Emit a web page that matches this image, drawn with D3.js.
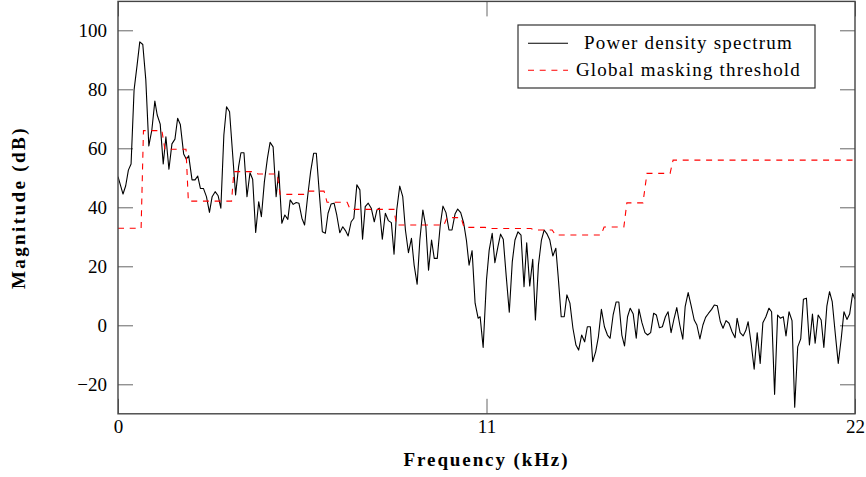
<!DOCTYPE html>
<html>
<head>
<meta charset="utf-8">
<script src="https://cdn.jsdelivr.net/npm/d3@7"></script>
<style>
  body { margin: 0; background: #fff; }
  text { font-family: "Liberation Serif", "Times New Roman", serif; fill: #000; }
</style>
</head>
<body>
<div class="chart"></div>
<script>
// spectrum samples (kHz, dB)
const spectrumFreq = [
  0, 0.15, 0.23, 0.31, 0.39, 0.48, 0.57, 0.65, 0.74, 0.83,
  0.92, 1.01, 1.10, 1.17, 1.26, 1.35, 1.43, 1.52, 1.61, 1.70,
  1.78, 1.86, 1.96, 2.04, 2.11, 2.21, 2.30, 2.38, 2.46, 2.55,
  2.64, 2.73, 2.81, 2.90, 2.99, 3.07, 3.16, 3.24, 3.33, 3.42,
  3.51, 3.60, 3.67, 3.76, 3.85, 3.94, 4.02, 4.11, 4.20, 4.28,
  4.37, 4.46, 4.54, 4.63, 4.72, 4.80, 4.89, 4.98, 5.07, 5.14,
  5.23, 5.32, 5.40, 5.49, 5.57, 5.66, 5.75, 5.84, 5.92, 6.01,
  6.10, 6.19, 6.27, 6.36, 6.45, 6.53, 6.62, 6.71, 6.79, 6.87,
  6.96, 7.04, 7.13, 7.22, 7.30, 7.38, 7.47, 7.56, 7.65, 7.73,
  7.80, 7.89, 7.98, 8.07, 8.16, 8.24, 8.32, 8.41, 8.50, 8.58,
  8.67, 8.76, 8.84, 8.93, 9.01, 9.10, 9.19, 9.27, 9.36, 9.44,
  9.53, 9.62, 9.70, 9.79, 9.88, 9.97, 10.06, 10.14, 10.23, 10.32,
  10.40, 10.48, 10.57, 10.66, 10.75, 10.81, 10.90, 11.00, 11.08, 11.17,
  11.25, 11.34, 11.42, 11.50, 11.59, 11.68, 11.77, 11.85, 11.94, 12.03,
  12.12, 12.20, 12.29, 12.38, 12.46, 12.55, 12.64, 12.72, 12.81, 12.89,
  12.98, 13.07, 13.14, 13.23, 13.32, 13.40, 13.49, 13.58, 13.67, 13.75,
  13.84, 13.93, 14.01, 14.10, 14.17, 14.26, 14.34, 14.43, 14.52, 14.61,
  14.69, 14.78, 14.87, 14.95, 15.04, 15.12, 15.21, 15.29, 15.38, 15.47,
  15.55, 15.64, 15.73, 15.81, 15.90, 15.99, 16.07, 16.16, 16.25, 16.34,
  16.42, 16.51, 16.59, 16.68, 16.77, 16.86, 16.93, 17.02, 17.11, 17.20,
  17.28, 17.37, 17.46, 17.54, 17.63, 17.72, 17.80, 17.89, 17.98, 18.06,
  18.15, 18.24, 18.33, 18.42, 18.48, 18.57, 18.66, 18.74, 18.81, 18.90,
  18.99, 19.08, 19.17, 19.25, 19.34, 19.43, 19.51, 19.60, 19.69, 19.77,
  19.86, 19.94, 20.03, 20.12, 20.20, 20.29, 20.38, 20.46, 20.55, 20.64,
  20.73, 20.81, 20.90, 20.99, 21.07, 21.16, 21.24, 21.32, 21.41, 21.50,
  21.59, 21.67, 21.76, 21.84, 21.93, 22.00
];
const spectrumDb = [
  50.4, 44.5, 47.3, 52.6, 54.7, 79.8, 88.2, 96.1, 95.2, 83.2,
  60.8, 66.2, 76.0, 71.3, 68.2, 54.7, 63.9, 52.9, 61.5, 63.1,
  70.2, 68.1, 58.1, 56.3, 57.5, 49.3, 49.3, 50.6, 46.4, 46.4,
  43.6, 38.3, 43.6, 45.3, 43.9, 39.7, 64.5, 74.1, 72.4, 58.3,
  44.2, 53.8, 58.5, 58.5, 43.6, 51.7, 49.5, 31.5, 41.9, 36.8,
  48.7, 56.6, 62.0, 60.5, 43.6, 52.3, 34.6, 37.4, 35.9, 42.5,
  41.0, 41.6, 41.4, 36.3, 34.0, 43.6, 52.1, 58.3, 58.3, 44.7,
  31.7, 31.2, 38.0, 41.1, 41.4, 37.4, 31.4, 33.4, 32.1, 30.3,
  35.1, 36.3, 47.6, 45.9, 29.2, 40.2, 41.4, 39.7, 35.1, 39.1,
  39.7, 29.2, 38.0, 35.5, 34.8, 24.1, 39.1, 47.2, 43.6, 32.3,
  24.6, 29.5, 20.4, 13.9, 28.9, 39.1, 33.4, 18.7, 28.9, 22.7,
  22.7, 34.0, 40.4, 38.2, 32.3, 32.3, 37.7, 39.4, 38.2, 34.6,
  28.9, 20.4, 25.3, 7.5, 2.4, 2.9, -7.5, 15.4, 25.5, 31.2,
  21.2, 26.6, 30.9, 29.2, 16.5, 4.4, 21.6, 28.9, 31.7, 30.6,
  13.1, 28.0, 13.3, 22.4, 1.8, 20.4, 28.9, 32.3, 30.9, 28.9,
  23.5, 26.1, 16.5, 2.9, 2.9, 10.3, 7.5, -1.0, -6.7, -8.4,
  -3.3, -5.6, -0.5, -0.5, -12.3, -8.9, -3.9, 5.4, -0.5, -3.3,
  -4.4, 3.5, 7.9, 7.9, -3.3, -7.0, 2.9, 5.8, 3.8, -4.4,
  5.5, 0.9, -2.5, -3.3, -2.5, 4.1, 3.5, -0.8, -0.5, 2.9,
  4.6, -2.5, 1.8, 6.0, 0.1, -4.7, 6.3, 11.1, 6.6, 1.8,
  0.1, -4.6, 0.1, 2.7, 4.1, 5.4, 6.9, 6.6, 1.2, -1.0,
  1.6, 0.7, -2.2, -4.2, 2.4, -2.5, -3.6, -1.8, 1.2, -6.1,
  -14.9, -2.5, -12.9, 0.9, 2.9, 5.8, 4.6, -23.4, 3.5, 2.4,
  2.9, -3.6, 4.6, 1.6, -27.8, -7.3, -4.6, 8.8, 9.2, -6.7,
  3.8, -6.1, 3.5, 1.8, -7.5, 6.5, 11.4, 8.0, -2.7, -12.9,
  -4.4, 4.6, 2.0, 3.8, 10.8, 8.8
];

// masking threshold, a step curve
const maskFreq = [
  0, 0.69, 0.76, 1.31, 1.40, 2.03, 2.10, 3.39, 3.46, 4.03,
  4.18, 4.75, 4.84, 5.55, 5.64, 6.15, 6.24, 6.84, 6.93, 8.24,
  8.31, 9.73, 9.82, 10.24, 10.33, 10.96, 11.07, 12.33, 12.42, 12.96,
  13.06, 14.42, 14.51, 15.10, 15.19, 15.67, 15.79, 16.48, 16.57, 22
];
const maskDb = [
  32.9, 32.9, 66.0, 66.0, 59.7, 59.7, 42.1, 42.1, 52.1, 52.1,
  51.3, 51.3, 44.4, 44.4, 45.5, 45.5, 41.7, 41.7, 39.3, 39.3,
  34.0, 34.0, 36.5, 36.5, 33.2, 33.2, 32.8, 32.8, 32.3, 32.3,
  30.6, 30.6, 33.3, 33.3, 41.5, 41.5, 51.5, 51.5, 56.0, 56.0
];

const xTickValues = [0, 11, 22];
const yTickValues = [-20, 0, 20, 40, 60, 80, 100];
const seriesNames = ["Power density spectrum", "Global masking threshold"];
const xTitle = "Frequency (kHz)";
const yTitle = "Magnitude (dB)";

(() => {
  const width = 866;
  const height = 477;
  const plot = { left: 118, right: 855, top: 1.4, bottom: 413.8 };
  const tickLen = 15;

  const svg = d3
    .select(".chart")
    .append("svg")
    .attr("width", width)
    .attr("height", height)
    .style("display", "block");

  const x = d3.scaleLinear().domain([0, 22]).range([plot.left, plot.right]);
  const y = d3.scaleLinear().domain([-30, 109.8]).range([plot.bottom, plot.top]);

  const fmt = (d) => (d < 0 ? "\u2212" + Math.abs(d) : String(d));

  svg.append("defs")
    .append("clipPath")
    .attr("id", "plot-clip")
    .append("rect")
    .attr("x", plot.left)
    .attr("y", plot.top)
    .attr("width", plot.right - plot.left)
    .attr("height", plot.bottom - plot.top);

  // ticks on all four sides, pointing inward
  const axes = [
    { gen: d3.axisLeft(y).tickValues(yTickValues).tickFormat(fmt), at: `translate(${plot.left},0)`, pad: 11 },
    { gen: d3.axisRight(y).tickValues(yTickValues).tickFormat(""), at: `translate(${plot.right},0)`, pad: 0 },
    { gen: d3.axisBottom(x).tickValues(xTickValues).tickFormat(fmt), at: `translate(0,${plot.bottom})`, pad: 6 },
    { gen: d3.axisTop(x).tickValues(xTickValues).tickFormat(""), at: `translate(0,${plot.top})`, pad: 0 },
  ];
  axes.forEach((a) => {
    const g = svg
      .append("g")
      .attr("transform", a.at)
      .call(a.gen.tickSize(-tickLen).tickPadding(a.pad));
    g.select(".domain").remove();
    g.selectAll(".tick line").attr("stroke", "#666").attr("stroke-width", 1);
    g.selectAll(".tick text")
      .attr("font-family", "Liberation Serif, serif")
      .attr("font-size", 19)
      .attr("fill", "#000");
  });

  const spectrum = d3.zip(spectrumFreq, spectrumDb);
  const mask = d3.zip(maskFreq, maskDb);
  const line = d3
    .line()
    .x((d) => x(d[0]))
    .y((d) => y(d[1]));

  const lines = svg.append("g").attr("clip-path", "url(#plot-clip)");

  lines
    .append("path")
    .datum(spectrum)
    .attr("d", line)
    .attr("fill", "none")
    .attr("stroke", "#000")
    .attr("stroke-width", 1.1)
    .attr("stroke-linejoin", "round");

  lines
    .append("path")
    .datum(mask)
    .attr("d", line)
    .attr("fill", "none")
    .attr("stroke", "#ff0000")
    .attr("stroke-width", 1.1)
    .attr("stroke-dasharray", "6,5.7");

  // frame
  svg
    .append("rect")
    .attr("x", plot.left)
    .attr("y", plot.top)
    .attr("width", plot.right - plot.left)
    .attr("height", plot.bottom - plot.top)
    .attr("fill", "none")
    .attr("stroke", "#444")
    .attr("stroke-width", 1.4);

  // axis titles
  svg
    .append("text")
    .attr("x", (plot.left + plot.right) / 2)
    .attr("y", 466)
    .attr("text-anchor", "middle")
    .attr("font-size", 19)
    .attr("font-weight", "bold")
    .attr("letter-spacing", 1.9)
    .text(xTitle);

  svg
    .append("text")
    .attr("transform", `translate(25,${(plot.top + plot.bottom) / 2}) rotate(-90)`)
    .attr("text-anchor", "middle")
    .attr("font-size", 19)
    .attr("font-weight", "bold")
    .attr("letter-spacing", 2.4)
    .text(yTitle);

  // legend
  const legend = svg.append("g").attr("transform", "translate(518,25)");
  legend
    .append("rect")
    .attr("width", 297)
    .attr("height", 63)
    .attr("fill", "#fff")
    .attr("stroke", "#333")
    .attr("stroke-width", 1.2);

  const legendRows = seriesNames.map((name, i) => ({
    name,
    stroke: i === 0 ? "#000" : "#ff0000",
    dash: i === 0 ? null : "6,5.7",
    cy: 18.3 + i * 27,
  }));

  legendRows.forEach((r) => {
    legend
      .append("line")
      .attr("x1", 10)
      .attr("x2", 50)
      .attr("y1", r.cy)
      .attr("y2", r.cy)
      .attr("stroke", r.stroke)
      .attr("stroke-width", 1.1)
      .attr("stroke-dasharray", r.dash);
    legend
      .append("text")
      .attr("x", 170.5)
      .attr("y", r.cy + 6)
      .attr("text-anchor", "middle")
      .attr("font-size", 19)
      .attr("letter-spacing", 1.2)
      .text(r.name);
  });
})();
</script>
</body>
</html>
